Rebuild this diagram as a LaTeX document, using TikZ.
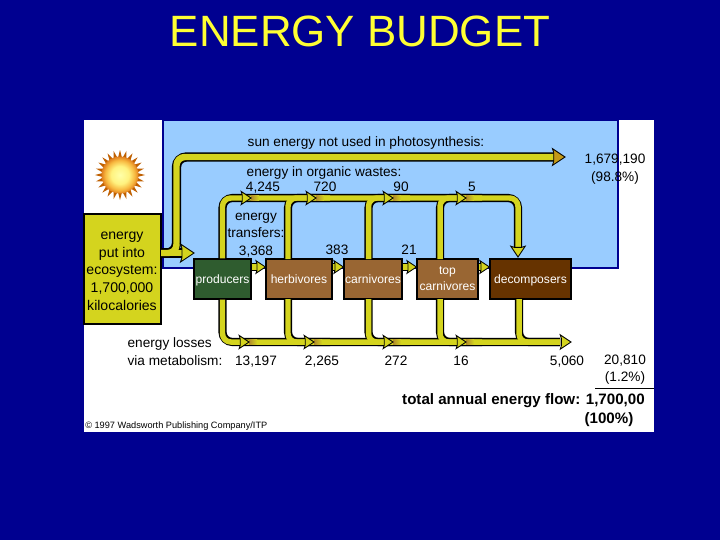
\documentclass[tikz,border=0pt]{standalone}
\usepackage{fontspec}
\setmainfont{Liberation Sans}
\usetikzlibrary{arrows.meta,positioning,calc}
\definecolor{Navy}{HTML}{000090}
\definecolor{SkyBlue}{HTML}{99CCFF}
\definecolor{PipeYellow}{HTML}{D4D41E}
\definecolor{TitleYellow}{HTML}{FFFF33}
\definecolor{HeadGold}{HTML}{C49A18}
\definecolor{Smudge}{HTML}{B08A2A}
\definecolor{LeafGreen}{HTML}{2F5C2F}
\definecolor{MidBrown}{HTML}{996633}
\definecolor{DarkBrown}{HTML}{663300}
\pgfdeclareradialshading{sunball}{\pgfpointorigin}{rgb(0bp)=(1,1,0.66); rgb(12bp)=(1,0.95,0.5); rgb(20bp)=(0.97,0.72,0.25); rgb(25bp)=(0.88,0.5,0.12); rgb(50bp)=(0.88,0.5,0.12)}
\newcommand{\px}{0.025cm}
\tikzset{
  lab/.style={inner sep=0pt,align=center,font=\fontsize{9.7}{12.4}\selectfont},
  numlab/.style={lab,anchor=base},
  boxlab/.style={draw=black,line width=0.8pt,inner sep=0pt,align=center,text=white,text depth=0pt,minimum height=40*\px,font=\fontsize{8.6}{11.4}\selectfont},
  pipeedge/.style={draw=black,line width=5.8pt,rounded corners=7pt},
  pipefill/.style={draw=PipeYellow,line width=3.9pt,rounded corners=6pt},
  pics/pipehead/.style={code={
    \path[pic actions] (-8,-3) -- (-9,-6) -- (0,0) -- (-9,6) -- (-8,3) -- cycle;
  }},
}
\begin{document}
\begin{tikzpicture}[x=\px,y=-\px]
  \useasboundingbox (0,0) rectangle (720,540);
  \fill[Navy] (0,0) rectangle (720,540);
  \fill[white] (84,120) rectangle (654,432);
  \filldraw[fill=SkyBlue,draw=Navy,line width=0.8pt] (163,120) rectangle (618,268);

  \node[text=TitleYellow,font=\fontsize{31.2}{36}\selectfont,inner sep=0pt] (title) at (360,31) {ENERGY BUDGET};

  % sun
  \foreach \a in {0,15,...,345} {
    \fill[orange!75!black] ($(120,175)+(\a-7:17)$) -- ($(120,175)+(\a:25)$) -- ($(120,175)+(\a+7:17)$) -- cycle;
  }
  \node[circle,minimum size=37*\px,inner sep=0pt,shading=sunball] (sun) at (120,175) {};

  % boxes
  \node[draw=black,line width=0.8pt,fill=PipeYellow,minimum width=77*\px,minimum height=110*\px] (input) at (122.5,269) {};
  \node[lab,font=\fontsize{10}{12.6}\selectfont] (inputlab) at (122,271) {energy\\put into\\ecosystem:\\1,700,000\\kilocalories};
  \node[boxlab,fill=LeafGreen,minimum width=57*\px] (producers) at (222.5,279) {producers};
  \node[boxlab,fill=MidBrown,minimum width=66*\px] (herbivores) at (299,279) {herbivores};
  \node[boxlab,fill=MidBrown,minimum width=58*\px] (carnivores) at (373,279) {carnivores};
  \node[boxlab,fill=MidBrown,minimum width=61*\px] (topcarn) at (447.5,279) {top\\carnivores};
  \node[boxlab,fill=DarkBrown,minimum width=81*\px] (decomposers) at (530.5,279) {decomposers};

  \coordinate (sunbranch) at (176.5,157);
  \coordinate (sunend) at (555,157);
  \coordinate (inputout) at (161,253);
  \coordinate (inputend) at (184,253);
  \coordinate (wasteend) at (518,198);
  \coordinate (lossend) at (560,342);

  % pipes, black edge first, yellow on top so that joints stay open
  \foreach \pipestyle/\bigwidth in {pipeedge/6.6pt,pipefill/4.6pt} {
    \draw[\pipestyle,line width=\bigwidth] (inputout) -| (sunbranch) -- (sunend);
    \draw[\pipestyle,line width=\bigwidth] (inputout) -- (inputend);
    \draw[\pipestyle] (producers.north) |- (wasteend) -- (518,248);
    \draw[\pipestyle] (288,259) |- (330,198);
    \draw[\pipestyle] (368.5,259) |- (410,198);
    \draw[\pipestyle] (440,259) |- (482,198);
    \draw[\pipestyle] (producers.south) |- (lossend);
    \draw[\pipestyle] (288,299) |- (330,342);
    \draw[\pipestyle] (368.5,299) |- (410,342);
    \draw[\pipestyle] (440,299) |- (482,342);
    \draw[\pipestyle] (519,299) |- (lossend);
    \foreach \src/\dst in {producers/herbivores,herbivores/carnivores,carnivores/topcarn,topcarn/decomposers} {
      \draw[\pipestyle,rounded corners=0pt] ([yshift=12*\px]\src.east) -- ([xshift=-7*\px,yshift=12*\px]\dst.west);
    }
  }
  \foreach \hx/\hy in {251/198,316/198,393/198,466/198,249/342,314/342,393/342,466/342} {
    \fill[left color=Smudge,right color=PipeYellow] (\hx,\hy-2.7) rectangle (\hx+8,\hy+2.7);
    \pic[fill=PipeYellow,draw=black,line width=0.6pt,scale=1.1] at (\hx,\hy) {pipehead};
  }
  \pic[fill=HeadGold,draw=black,line width=0.6pt,scale=1.4] at (565,157) {pipehead};
  \pic[fill=PipeYellow,draw=black,line width=0.6pt,scale=1.5] at (194,253) {pipehead};
  \pic[fill=PipeYellow,draw=black,line width=0.6pt,rotate=-90,scale=1.2] at (518,257) {pipehead};
  \pic[fill=PipeYellow,draw=black,line width=0.6pt,scale=1.2] at (571,342) {pipehead};
  \foreach \dst in {herbivores,carnivores,topcarn,decomposers} {
    \pic[fill=PipeYellow,draw=black,line width=0.6pt,scale=1.05] at ([yshift=12*\px]\dst.west) {pipehead};
  }

  % labels
  \node[lab] (sunlab) at (366,142.5) {sun energy not used in photosynthesis:};
  \node[lab] (wastelab) at (324,172.5) {energy in organic wastes:};
  \node[numlab] (w1) at (263,191) {4,245};
  \node[numlab] (w2) at (325,191) {720};
  \node[numlab] (w3) at (401,191) {90};
  \node[numlab] (w4) at (472,191) {5};
  \node[lab] (translab) at (256,235) {energy\\transfers:\\3,368};
  \node[numlab] (t2) at (337,254) {383};
  \node[numlab] (t3) at (409,254) {21};
  \node[lab] (notused) at (615,169) {1,679,190\\(98.8\%)};
  \node[lab,align=left] (losslab) at (175,351.5) {energy losses\\via metabolism:};
  \node[numlab] (l1) at (256,365) {13,197};
  \node[numlab] (l2) at (322,365) {2,265};
  \node[numlab] (l3) at (396,365) {272};
  \node[numlab] (l4) at (461,365) {16};
  \node[numlab] (l5) at (567,365) {5,060};
  \node[lab] (lsum) at (625,369.5) {20,810\\(1.2\%)};
  \coordinate (rulea) at (595,388);
  \coordinate (ruleb) at (654,388);
  \draw[black,line width=0.6pt] (rulea) -- (ruleb);
  \node[lab,anchor=east,font=\fontsize{10.75}{12}\bfseries\selectfont] (total) at (645,400.5) {total annual energy flow: 1,700,00};
  \node[lab,font=\fontsize{10.75}{12}\bfseries\selectfont] (totalpct) at (609,419.5) {(100\%)};
  \node[lab,anchor=west,font=\fontsize{6.55}{8}\selectfont] (credit) at (85,426) {© 1997 Wadsworth Publishing Company/ITP};
\end{tikzpicture}
\end{document}
